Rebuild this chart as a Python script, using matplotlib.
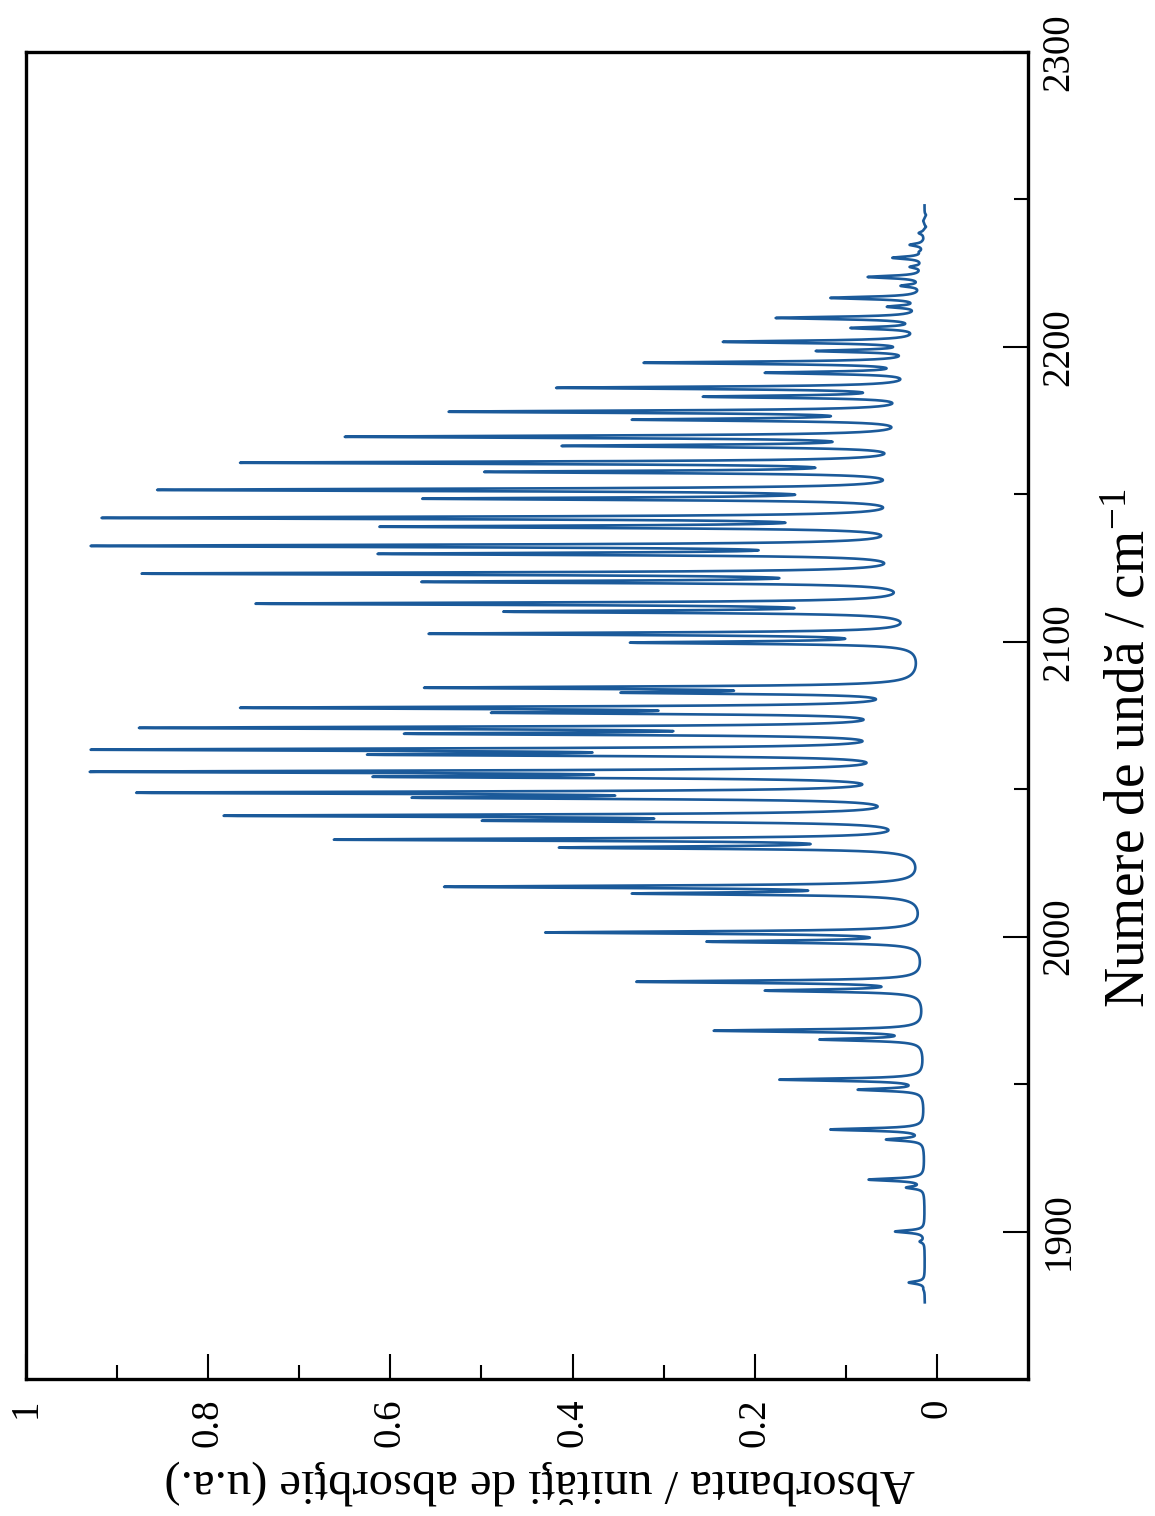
import numpy as np
import matplotlib
matplotlib.use('Agg')
from matplotlib import pyplot as plt
from matplotlib.ticker import FixedLocator

plt.rcParams['font.family'] = ['Liberation Serif', 'DejaVu Serif']
plt.rcParams['mathtext.default'] = 'regular'

# peak positions (cm-1) and peak absorbance
r_main_pos = [2244.7, 2242.7, 2238.6, 2234.6, 2230.2, 2223.7, 2216.6, 2209.8, 2201.7, 2194.6,
              2186.1, 2178.0, 2169.5, 2160.7, 2151.5, 2142.0, 2132.5, 2123.1, 2112.9, 2102.7]
r_main_abs = [0.012, 0.015, 0.020, 0.030, 0.049, 0.076, 0.117, 0.177, 0.235, 0.322,
              0.418, 0.536, 0.650, 0.765, 0.856, 0.917, 0.929, 0.873, 0.748, 0.558]
r_side_pos = [2240.7, 2236.6, 2232.2, 2227.1, 2220.7, 2213.6, 2206.4, 2198.6, 2191.2, 2183.1,
              2175.3, 2166.4, 2157.6, 2148.5, 2139.0, 2129.8, 2120.3, 2110.2, 2099.7]
r_side_abs = [0.012, 0.015, 0.020, 0.030, 0.040, 0.055, 0.095, 0.133, 0.189, 0.257,
              0.335, 0.412, 0.497, 0.565, 0.612, 0.614, 0.566, 0.476, 0.337]

p_main_pos = [2084.4, 2077.6, 2070.8, 2063.4, 2055.9, 2048.8, 2041.0, 2032.9, 2016.9, 2001.4,
              1984.7, 1968.1, 1951.5, 1934.6, 1917.6, 1900.0, 1882.7]
p_main_abs = [0.563, 0.765, 0.876, 0.929, 0.930, 0.879, 0.783, 0.662, 0.541, 0.430,
              0.330, 0.245, 0.173, 0.117, 0.075, 0.046, 0.031]
p_side_pos = [2082.7, 2075.9, 2068.8, 2061.7, 2054.2, 2047.1, 2039.3, 2030.2, 2014.6, 1998.3,
              1981.7, 1965.1, 1948.1, 1931.2, 1914.9, 1896.6, 1880.3]
p_side_abs = [0.347, 0.489, 0.585, 0.625, 0.619, 0.576, 0.499, 0.415, 0.335, 0.253,
              0.189, 0.129, 0.087, 0.056, 0.034, 0.019, 0.015]

baseline = 0.013
hwhm = 0.5
nu_start, nu_end = 1876.0, 2248.0

x_ticks = [0, 0.2, 0.4, 0.6, 0.8, 1]
x_labels = ['0', '0.2', '0.4', '0.6', '0.8', '1']
x_minor = [0.1, 0.3, 0.5, 0.7, 0.9]
y_ticks = [1900, 2000, 2100, 2200, 2300]
y_labels = ['1900', '2000', '2100', '2200', '2300']
y_minor = [1950, 2050, 2150, 2250]


def lorentz(d, w):
    return w**2 / (d**2 + w**2)


def build_spectrum():
    pos = np.array(r_main_pos + r_side_pos + p_main_pos + p_side_pos)
    top = np.array(r_main_abs + r_side_abs + p_main_abs + p_side_abs)
    # amplitudes so the summed profile hits the read peak heights
    overlap = lorentz(pos[:, None] - pos[None, :], hwhm)
    amp = np.linalg.solve(overlap, top - baseline)
    nu = np.arange(nu_start, nu_end, 0.02)
    absorb = baseline + (amp[None, :] * lorentz(nu[:, None] - pos[None, :], hwhm)).sum(axis=1)
    return nu, absorb


nu, absorb = build_spectrum()

fig = plt.figure(figsize=(11.55, 15.16), dpi=100)
ax = fig.add_axes([26 / 1155, 1 - 1379 / 1516, (1028 - 26) / 1155, (1379 - 52) / 1516])

ax.plot(absorb, nu, color='#1b5a9a', lw=1.9)

ax.set_xlim(1, -0.1)
ax.set_ylim(1850, 2300)

ax.yaxis.tick_right()
ax.yaxis.set_label_position('right')
ax.xaxis.set_major_locator(FixedLocator(x_ticks))
ax.xaxis.set_minor_locator(FixedLocator(x_minor))
ax.set_xticklabels(x_labels)
ax.yaxis.set_major_locator(FixedLocator(y_ticks))
ax.yaxis.set_minor_locator(FixedLocator(y_minor))
ax.set_yticklabels(y_labels)

ax.tick_params(which='both', direction='in', top=False, left=False, right=True, bottom=True,
               width=1.5, color='black')
ax.tick_params(which='major', length=18)
ax.tick_params(which='minor', length=10)
ax.tick_params(axis='y', which='major', labelsize=28, pad=9)
ax.tick_params(axis='x', which='major', labelsize=28, pad=14)

for lab in ax.get_yticklabels():
    lab.set_rotation(90)
    lab.set_va('center')
    lab.set_ha('left')
for lab in ax.get_xticklabels():
    lab.set_rotation(90)
    lab.set_ha('center')
    lab.set_va('top')

for sp in ax.spines.values():
    sp.set_linewidth(2.4)

ax.set_xlabel('Absorbanta / unităţi de absorbţie (u.a.)', fontsize=35, rotation=180)
ax.xaxis.label.set_va('center')
ax.xaxis.set_label_coords(0.513, -0.078)

ax.set_ylabel('Numere de undă / cm$^{-1}$', fontsize=40, rotation=90)
ax.yaxis.label.set_va('center')
ax.yaxis.set_label_coords(1.102, 0.475)

fig.savefig('out.png', dpi=100)
